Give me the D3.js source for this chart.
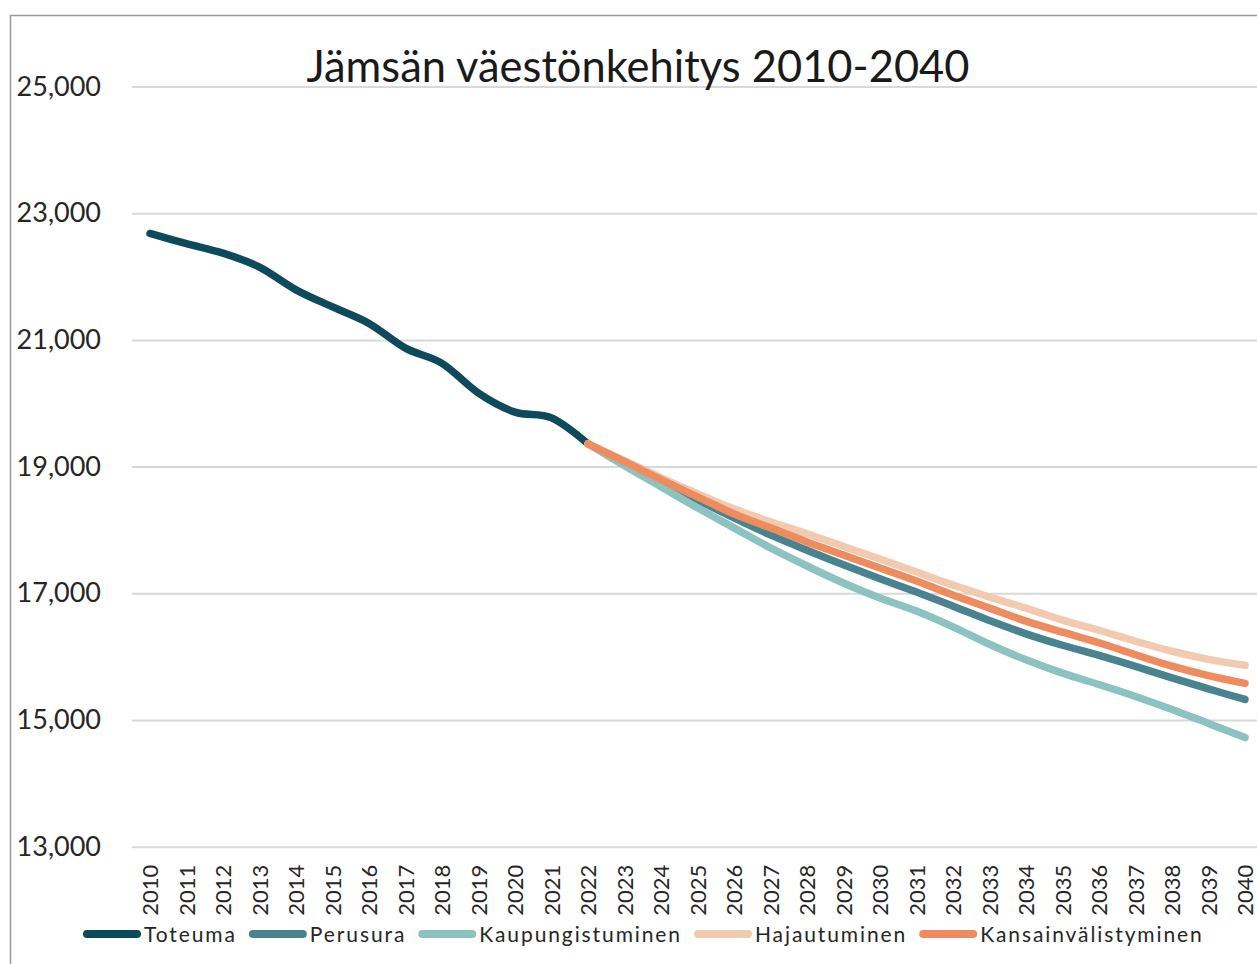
<!DOCTYPE html>
<html>
<head>
<meta charset="utf-8">
<script src="https://cdn.jsdelivr.net/npm/d3@7"></script>
<style>
  html, body { margin: 0; padding: 0; background: #fff; }
  svg { display: block; font-family: Lato, "Open Sans", sans-serif; }
</style>
</head>
<body>
<svg id="chart" width="1257" height="964"></svg>
<script>
// categories
const years = ['2010','2011','2012','2013','2014','2015','2016','2017','2018','2019','2020',
  '2021','2022','2023','2024','2025','2026','2027','2028','2029','2030',
  '2031','2032','2033','2034','2035','2036','2037','2038','2039','2040'];

// toteuma 2010-2022
const toteuma = [22680, 22520, 22370, 22150, 21790, 21520, 21260, 20870, 20630, 20160, 19860, 19770, 19360];
// projections 2022-2040
const perusura = [19360, 19062, 18761, 18476, 18191, 17922, 17680, 17450, 17230, 17019, 16797, 16570, 16360, 16180, 16020, 15847, 15665, 15490, 15325];
const kaupungistuminen = [19360, 19014, 18682, 18349, 18033, 17716, 17431, 17162, 16924, 16720, 16470, 16196, 15950, 15740, 15560, 15372, 15166, 14945, 14723];
const hajautuminen = [19360, 19094, 18824, 18571, 18333, 18128, 17940, 17740, 17542, 17336, 17130, 16940, 16766, 16576, 16417, 16243, 16085, 15958, 15863];
const kansainvalistyminen = [19360, 19078, 18793, 18523, 18254, 18033, 17811, 17605, 17399, 17193, 16972, 16766, 16560, 16386, 16220, 16030, 15850, 15700, 15578];

const yTicks = [13000, 15000, 17000, 19000, 21000, 23000, 25000];
const title = 'Jämsän väestönkehitys 2010-2040';

// series, drawn in this order (last on top)
const series = [
  { name: 'Toteuma', start: '2010', values: toteuma, color: '#0d4a5c' },
  { name: 'Perusura', start: '2022', values: perusura, color: '#4a8390' },
  { name: 'Kaupungistuminen', start: '2022', values: kaupungistuminen, color: '#8cc3c0' },
  { name: 'Hajautuminen', start: '2022', values: hajautuminen, color: '#f2cab0' },
  { name: 'Kansainvälistyminen', start: '2022', values: kansainvalistyminen, color: '#ee8c5f' }
];

const svg = d3.select('#chart');

// frame (the picture is cut at right and bottom)
svg.append('path')
  .attr('d', 'M10.5,964 V15.5 H1257')
  .attr('fill', 'none')
  .attr('stroke', '#9a9a9a')
  .attr('stroke-width', 1.5);

const x = d3.scalePoint()
  .domain(years)
  .range([150, 1245]);

const y = d3.scaleLinear()
  .domain([13000, 25000])
  .range([846.7, 86.5]);

// gridlines
svg.append('g')
  .attr('transform', 'translate(132,0)')
  .call(d3.axisRight(y).tickValues(yTicks).tickSize(1140).tickFormat(''))
  .call(g => g.select('.domain').remove())
  .call(g => g.selectAll('line').attr('stroke', '#d9d9d9').attr('stroke-width', 2));

// y labels
svg.append('g')
  .attr('transform', 'translate(101,0)')
  .call(d3.axisLeft(y).tickValues(yTicks).tickSize(0).tickPadding(0).tickFormat(d3.format(',')))
  .call(g => g.select('.domain').remove())
  .call(g => g.selectAll('text')
    .attr('font-family', 'Lato, sans-serif')
    .attr('font-size', 27)
    .attr('fill', '#262626'));

// x labels
svg.append('g')
  .attr('transform', `translate(0,${y(13000)})`)
  .call(d3.axisBottom(x).tickSize(0))
  .call(g => g.select('.domain').remove())
  .call(g => g.selectAll('text')
    .attr('font-family', 'Lato, sans-serif')
    .attr('font-size', 22)
    .attr('fill', '#262626')
    .attr('transform', 'rotate(-90)')
    .attr('text-anchor', 'end')
    .attr('x', -18)
    .attr('y', 0)
    .attr('dy', '0.36em'));

// lines
const line = d3.line()
  .defined(d => d.v != null)
  .x(d => x(d.year))
  .y(d => y(d.v))
  .curve(d3.curveCardinal.tension(0));

series.forEach(s => {
  const i0 = years.indexOf(s.start);
  const pts = s.values.map((v, i) => ({ year: years[i0 + i], v: v }));
  svg.append('path')
    .datum(pts)
    .attr('d', line)
    .attr('fill', 'none')
    .attr('stroke', s.color)
    .attr('stroke-width', 7.5)
    .attr('stroke-linecap', 'round')
    .attr('stroke-linejoin', 'round');
});

// title
svg.append('text')
  .attr('x', 638)
  .attr('y', 82)
  .attr('text-anchor', 'middle')
  .attr('font-family', 'Lato, sans-serif')
  .attr('font-size', 44)
  .attr('fill', '#1a1a1a')
  .attr('textLength', 663)
  .attr('lengthAdjust', 'spacingAndGlyphs')
  .text(title);

// legend
const legend = svg.append('g').attr('transform', 'translate(83,934)');
let lx = 0;
series.forEach(s => {
  legend.append('line')
    .attr('x1', lx + 4).attr('x2', lx + 54)
    .attr('y1', 0).attr('y2', 0)
    .attr('stroke', s.color)
    .attr('stroke-width', 8)
    .attr('stroke-linecap', 'round');
  const t = legend.append('text')
    .attr('x', lx + 61)
    .attr('y', 0)
    .attr('dy', '0.36em')
    .attr('font-family', 'Lato, sans-serif')
    .attr('font-size', 21)
    .attr('letter-spacing', 1.9)
    .attr('fill', '#262626')
    .text(s.name);
  lx += 61 + t.node().getComputedTextLength() + 12;
});
</script>
</body>
</html>
